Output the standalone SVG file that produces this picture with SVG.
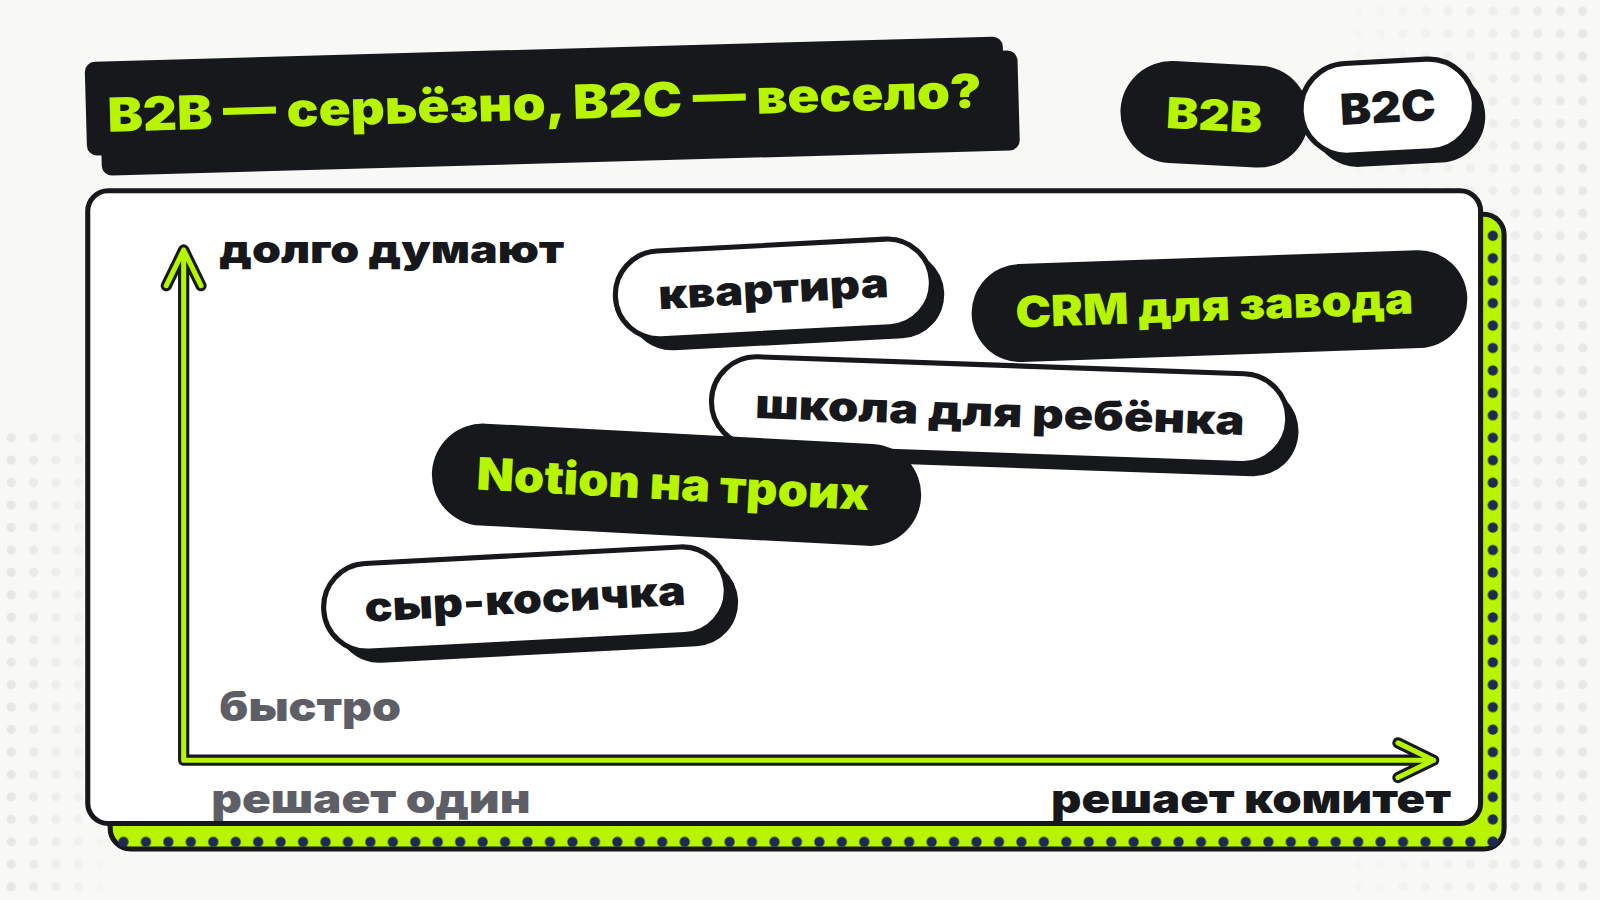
<svg xmlns="http://www.w3.org/2000/svg" width="1600" height="900" viewBox="0 0 1600 900">
<defs>
<pattern id="dots" width="22" height="22" patternUnits="userSpaceOnUse"><circle cx="11" cy="11" r="4.5" fill="#e4e5e3"/></pattern>
<pattern id="nav" width="22" height="22" patternUnits="userSpaceOnUse"><circle cx="11" cy="11" r="5" fill="#1c2a55"/></pattern>
<linearGradient id="fr" x1="1" y1="0" x2="0" y2="0"><stop offset="0" stop-color="#fff"/><stop offset="1" stop-color="#000"/></linearGradient>
<mask id="mr"><rect x="1300" y="0" width="300" height="900" fill="url(#fr)"/></mask>
<linearGradient id="fl" x1="0" y1="0" x2="1" y2="0"><stop offset="0" stop-color="#fff"/><stop offset="1" stop-color="#000"/></linearGradient>
<mask id="ml"><rect x="0" y="420" width="120" height="480" fill="url(#fl)"/></mask>
<style>
.t{font-family:Inter,"Open Sans",sans-serif;font-weight:900}
.dk{fill:#16181b}
.wh{fill:#fff;stroke:#16181b;stroke-width:5}
.g{fill:#b6f400}
</style>
</defs>
<rect width="1600" height="900" fill="#f8f9f6"/>
<g transform="scale(1.0204)">
<rect x="1300" y="0" width="300" height="900" fill="url(#dots)" mask="url(#mr)"/>
<rect x="0" y="420" width="120" height="480" fill="url(#dots)" mask="url(#ml)"/>

<g id="title">
<g transform="rotate(-1.6 540 95)">
<rect x="98" y="62" width="900" height="98" rx="10" class="dk"/>
<rect x="84" y="48" width="900" height="92" rx="10" class="dk"/>
<text x="105" y="117" class="t g" font-size="46" textLength="857" lengthAdjust="spacingAndGlyphs">B2B — серьёзно, B2C — весело?</text>
</g>
</g>

<g id="b2b"><g transform="rotate(3 1190 112)">
<rect x="1098" y="62" width="185" height="100" rx="50" class="dk"/>
<text x="1143" y="128" class="t g" font-size="42" textLength="94" lengthAdjust="spacingAndGlyphs">B2B</text></g></g>
<g id="b2c"><g transform="rotate(-3 1360 105)">
<rect x="1285" y="72" width="170" height="90" rx="45" class="dk"/>
<rect x="1275" y="60" width="170" height="90" rx="45" class="wh"/>
<text x="1313" y="120" class="t dk" font-size="42" textLength="94" lengthAdjust="spacingAndGlyphs">B2C</text></g></g>

<g id="frame">
<rect x="108" y="210" width="1366" height="622" rx="20" fill="#b6f400" stroke="#16181b" stroke-width="5"/>
<rect x="1452" y="215" width="20" height="612" fill="url(#nav)"/>
<rect x="113" y="810" width="1355" height="20" fill="url(#nav)"/>
<rect x="86" y="187" width="1365" height="620" rx="20" fill="#fff" stroke="#16181b" stroke-width="5"/>
</g>

<g id="axes" fill="none" stroke-linecap="round" stroke-linejoin="round">
<path d="M180 745V245M163 280L180 245L197 280M180 745H1405M1370 728L1405 745L1370 762" stroke="#16181b" stroke-width="11"/>
<path d="M180 745V245M163 280L180 245L197 280M180 745H1405M1370 728L1405 745L1370 762" stroke="#b6f400" stroke-width="5"/>
</g>

<g id="labels">
<text x="215" y="258" class="t dk" font-size="38" textLength="338" lengthAdjust="spacingAndGlyphs">долго думают</text>
<text x="215" y="707" class="t" fill="#5e5f66" font-size="40" textLength="178" lengthAdjust="spacingAndGlyphs">быстро</text>
<text x="207" y="797" class="t" fill="#5e5f66" font-size="40" textLength="313" lengthAdjust="spacingAndGlyphs">решает один</text>
<text x="1030" y="797" class="t dk" font-size="40" textLength="392" lengthAdjust="spacingAndGlyphs">решает комитет</text>
</g>

<g id="kvartira"><g transform="rotate(-3 760 285)">
<rect x="615" y="252" width="310" height="86" rx="43" class="dk"/>
<rect x="603" y="240" width="310" height="86" rx="43" class="wh"/>
<text x="645" y="297" class="t dk" font-size="40" textLength="226" lengthAdjust="spacingAndGlyphs">квартира</text></g></g>

<g id="crm"><g transform="rotate(-2 1195 298)">
<rect x="952" y="252" width="486" height="96" rx="48" class="dk"/>
<text x="995" y="314" class="t g" font-size="42" textLength="390" lengthAdjust="spacingAndGlyphs">CRM для завода</text></g></g>

<g id="shkola"><g transform="rotate(2 980 405)">
<rect x="708" y="370" width="565" height="88" rx="44" class="dk"/>
<rect x="697" y="358" width="565" height="88" rx="44" class="wh"/>
<text x="740" y="418" class="t dk" font-size="40" textLength="480" lengthAdjust="spacingAndGlyphs">школа для ребёнка</text></g></g>

<g id="notion"><g transform="rotate(3 662 475)">
<rect x="423" y="425" width="480" height="100" rx="50" class="dk"/>
<text x="467" y="490" class="t g" font-size="44" textLength="385" lengthAdjust="spacingAndGlyphs">Notion на троих</text></g></g>

<g id="syr"><g transform="rotate(-3 515 588)">
<rect x="328" y="556" width="395" height="86" rx="43" class="dk"/>
<rect x="317" y="544" width="395" height="86" rx="43" class="wh"/>
<text x="357" y="601" class="t dk" font-size="40" textLength="315" lengthAdjust="spacingAndGlyphs">сыр-косичка</text></g></g>
</g>
</svg>
